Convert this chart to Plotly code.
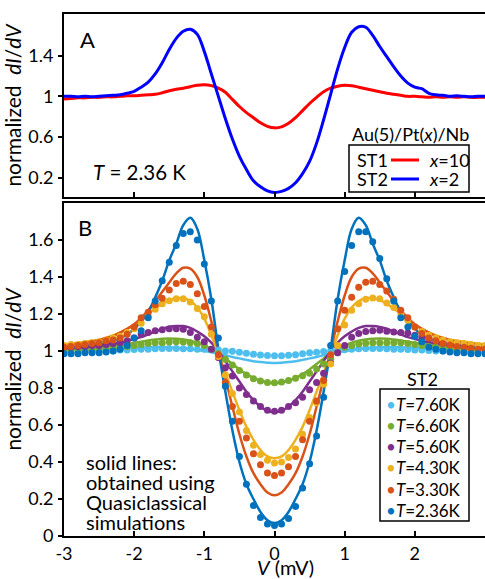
import plotly.graph_objects as go

# ---------------- data ----------------
V = [-3.0, -2.9, -2.8, -2.7, -2.6, -2.5, -2.4, -2.3, -2.2, -2.1, -2.0,
     -1.9, -1.8, -1.7, -1.6, -1.5, -1.4, -1.3, -1.2, -1.1, -1.0,
     -0.9, -0.8, -0.7, -0.6, -0.5, -0.4, -0.3, -0.2, -0.1, 0.0,
     0.1, 0.2, 0.3, 0.4, 0.5, 0.6, 0.7, 0.8, 0.9, 1.0,
     1.1, 1.2, 1.3, 1.4, 1.5, 1.6, 1.7, 1.8, 1.9, 2.0,
     2.1, 2.2, 2.3, 2.4, 2.5, 2.6, 2.7, 2.8, 2.9, 3.0]

# Panel A
st1_x10 = [0.975, 0.98, 0.985, 0.985, 0.99, 0.99, 0.995, 0.995, 1.0, 1.005, 1.005,
           1.01, 1.015, 1.02, 1.035, 1.055, 1.07, 1.08, 1.095, 1.11, 1.115,
           1.105, 1.08, 1.04, 0.97, 0.90, 0.84, 0.79, 0.74, 0.705, 0.69,
           0.70, 0.735, 0.79, 0.86, 0.93, 0.99, 1.045, 1.08, 1.10, 1.11,
           1.105, 1.09, 1.075, 1.06, 1.045, 1.03, 1.02, 1.01, 1.0, 1.0,
           0.995, 0.99, 0.995, 0.99, 0.995, 0.99, 0.995, 0.99, 0.99, 0.99]
st2_x2 = [1.00, 1.00, 0.995, 1.00, 0.995, 1.00, 1.005, 1.01, 1.015, 1.03, 1.05,
          1.09, 1.14, 1.22, 1.33, 1.46, 1.57, 1.64, 1.66, 1.61, 1.44,
          1.22, 1.00, 0.78, 0.58, 0.41, 0.28, 0.17, 0.11, 0.07, 0.055,
          0.065, 0.095, 0.15, 0.24, 0.36, 0.54, 0.77, 1.02, 1.27, 1.48,
          1.63, 1.685, 1.68, 1.60, 1.49, 1.39, 1.29, 1.20, 1.13, 1.09,
          1.075, 1.03, 1.015, 1.01, 1.00, 1.005, 1.00, 0.995, 1.00, 1.00]
series_A = ["ST1", "ST2"]
labels_A = ["<i>x</i>=10", "<i>x</i>=2"]

# Panel B - measured points
temps = ["7.60K", "6.60K", "5.60K", "4.30K", "3.30K", "2.36K"]
dots_760 = [0.995, 0.995, 0.995, 1.0, 1.0, 1.0, 1.0, 1.0, 1.005, 1.005, 1.008,
            1.01, 1.01, 1.012, 1.013, 1.013, 1.013, 1.012, 1.012, 1.01, 1.01,
            1.008, 1.005, 1.0, 0.998, 0.993, 0.988, 0.983, 0.978, 0.976, 0.975,
            0.975, 0.977, 0.98, 0.985, 0.99, 0.993, 0.997, 1.0, 1.004, 1.007,
            1.01, 1.012, 1.013, 1.013, 1.013, 1.012, 1.01, 1.01, 1.008, 1.005,
            1.005, 1.003, 1.0, 1.0, 1.0, 1.0, 0.998, 0.998, 0.995, 0.995]
dots_660 = [1.0, 1.005, 1.005, 1.005, 1.01, 1.01, 1.015, 1.015, 1.02, 1.025, 1.03,
            1.035, 1.04, 1.045, 1.045, 1.048, 1.05, 1.048, 1.045, 1.04, 1.03,
            1.01, 0.985, 0.955, 0.925, 0.895, 0.87, 0.85, 0.838, 0.83, 0.828,
            0.832, 0.84, 0.853, 0.866, 0.88, 0.903, 0.93, 0.96, 0.99, 1.02,
            1.03, 1.038, 1.042, 1.045, 1.045, 1.045, 1.045, 1.045, 1.04, 1.035,
            1.03, 1.025, 1.02, 1.015, 1.015, 1.01, 1.01, 1.005, 1.005, 1.0]
dots_560 = [1.02, 1.02, 1.025, 1.025, 1.03, 1.03, 1.035, 1.04, 1.045, 1.055, 1.07,
            1.09, 1.10, 1.11, 1.115, 1.12, 1.12, 1.117, 1.10, 1.075, 1.05,
            1.01, 0.965, 0.91, 0.865, 0.80, 0.765, 0.73, 0.70, 0.68, 0.675,
            0.68, 0.70, 0.72, 0.75, 0.79, 0.83, 0.88, 0.935, 0.99, 1.03,
            1.075, 1.094, 1.105, 1.11, 1.112, 1.107, 1.103, 1.10, 1.097, 1.085,
            1.075, 1.065, 1.055, 1.045, 1.04, 1.036, 1.032, 1.028, 1.025, 1.025]
dots_430 = [1.03, 1.035, 1.035, 1.04, 1.045, 1.05, 1.06, 1.07, 1.08, 1.10, 1.12,
            1.15, 1.19, 1.225, 1.255, 1.272, 1.283, 1.283, 1.265, 1.23, 1.185,
            1.09, 0.97, 0.87, 0.77, 0.67, 0.57, 0.49, 0.44, 0.41, 0.395,
            0.40, 0.425, 0.47, 0.55, 0.64, 0.72, 0.82, 0.93, 1.03, 1.14,
            1.22, 1.255, 1.28, 1.287, 1.283, 1.26, 1.235, 1.20, 1.165, 1.13,
            1.105, 1.085, 1.07, 1.06, 1.05, 1.045, 1.04, 1.035, 1.03, 1.03]
dots_330 = [1.02, 1.025, 1.03, 1.035, 1.04, 1.045, 1.055, 1.06, 1.07, 1.09, 1.13,
            1.18, 1.21, 1.25, 1.285, 1.33, 1.365, 1.377, 1.36, 1.31, 1.24,
            1.13, 0.98, 0.83, 0.70, 0.62, 0.53, 0.445, 0.385, 0.34, 0.327,
            0.34, 0.375, 0.43, 0.52, 0.62, 0.73, 0.84, 0.98, 1.12, 1.22,
            1.29, 1.345, 1.372, 1.377, 1.36, 1.325, 1.28, 1.22, 1.18, 1.13,
            1.095, 1.07, 1.055, 1.04, 1.033, 1.025, 1.02, 1.015, 1.01, 1.01]
dots_236 = [0.985, 0.985, 0.985, 0.99, 0.99, 0.99, 0.995, 1.0, 1.01, 1.03, 1.07,
            1.11, 1.18, 1.27, 1.38, 1.48, 1.57, 1.635, 1.645, 1.60, 1.47,
            1.27, 1.07, 0.81, 0.62, 0.43, 0.28, 0.165, 0.10, 0.065, 0.057,
            0.065, 0.095, 0.16, 0.26, 0.39, 0.54, 0.75, 1.03, 1.27, 1.43,
            1.57, 1.645, 1.645, 1.59, 1.50, 1.39, 1.27, 1.18, 1.13, 1.08,
            1.05, 1.02, 1.01, 1.0, 0.995, 0.99, 0.99, 0.985, 0.985, 0.985]

# Panel B - quasiclassical simulations
sim_760 = [1.005, 1.005, 1.006, 1.007, 1.008, 1.009, 1.01, 1.012, 1.014, 1.016, 1.018,
           1.019, 1.02, 1.021, 1.021, 1.02, 1.018, 1.015, 1.011, 1.006, 1.0,
           0.993, 0.985, 0.977, 0.968, 0.96, 0.952, 0.945, 0.94, 0.937, 0.935,
           0.937, 0.94, 0.945, 0.952, 0.96, 0.968, 0.977, 0.985, 0.993, 1.0,
           1.006, 1.011, 1.015, 1.018, 1.02, 1.021, 1.021, 1.02, 1.019, 1.018,
           1.016, 1.014, 1.012, 1.01, 1.009, 1.008, 1.007, 1.006, 1.005, 1.005]
sim_660 = [1.01, 1.011, 1.013, 1.015, 1.017, 1.02, 1.024, 1.028, 1.033, 1.038, 1.044,
           1.05, 1.057, 1.062, 1.066, 1.067, 1.066, 1.062, 1.055, 1.045, 1.03,
           1.01, 0.99, 0.96, 0.93, 0.90, 0.875, 0.855, 0.84, 0.83, 0.827,
           0.83, 0.84, 0.855, 0.875, 0.90, 0.93, 0.96, 0.99, 1.01, 1.03,
           1.045, 1.055, 1.062, 1.066, 1.067, 1.066, 1.062, 1.057, 1.05, 1.044,
           1.038, 1.033, 1.028, 1.024, 1.02, 1.017, 1.015, 1.013, 1.011, 1.01]
sim_560 = [1.015, 1.015, 1.02, 1.02, 1.025, 1.03, 1.035, 1.04, 1.045, 1.055, 1.065,
           1.075, 1.09, 1.105, 1.12, 1.13, 1.135, 1.135, 1.125, 1.105, 1.08,
           1.045, 1.0, 0.945, 0.89, 0.835, 0.78, 0.735, 0.70, 0.675, 0.67,
           0.675, 0.70, 0.735, 0.78, 0.835, 0.89, 0.945, 1.0, 1.045, 1.08,
           1.105, 1.125, 1.135, 1.135, 1.13, 1.12, 1.105, 1.09, 1.075, 1.065,
           1.055, 1.045, 1.04, 1.035, 1.03, 1.025, 1.02, 1.02, 1.015, 1.015]
sim_430 = [1.035, 1.04, 1.045, 1.05, 1.055, 1.06, 1.07, 1.085, 1.10, 1.12, 1.14,
           1.17, 1.20, 1.23, 1.255, 1.275, 1.285, 1.285, 1.27, 1.235, 1.175,
           1.085, 0.985, 0.88, 0.78, 0.68, 0.59, 0.52, 0.465, 0.43, 0.42,
           0.43, 0.465, 0.52, 0.59, 0.68, 0.78, 0.88, 0.985, 1.085, 1.175,
           1.235, 1.27, 1.285, 1.285, 1.275, 1.255, 1.23, 1.20, 1.17, 1.14,
           1.12, 1.10, 1.085, 1.07, 1.06, 1.055, 1.05, 1.045, 1.04, 1.035]
sim_330 = [1.03, 1.035, 1.04, 1.045, 1.05, 1.06, 1.07, 1.08, 1.10, 1.12, 1.145,
           1.18, 1.22, 1.27, 1.32, 1.37, 1.42, 1.45, 1.445, 1.40, 1.30,
           1.16, 1.0, 0.85, 0.70, 0.55, 0.43, 0.34, 0.28, 0.235, 0.22,
           0.235, 0.28, 0.34, 0.43, 0.55, 0.70, 0.85, 1.0, 1.16, 1.30,
           1.40, 1.445, 1.45, 1.42, 1.37, 1.32, 1.27, 1.22, 1.18, 1.145,
           1.12, 1.10, 1.08, 1.07, 1.06, 1.05, 1.045, 1.04, 1.035, 1.03]
sim_236 = [1.02, 1.02, 1.025, 1.03, 1.035, 1.04, 1.045, 1.055, 1.07, 1.09, 1.12,
           1.16, 1.21, 1.29, 1.38, 1.49, 1.58, 1.68, 1.72, 1.66, 1.49,
           1.28, 1.01, 0.78, 0.57, 0.40, 0.28, 0.20, 0.13, 0.085, 0.07,
           0.085, 0.13, 0.20, 0.28, 0.40, 0.57, 0.78, 1.01, 1.28, 1.49,
           1.66, 1.72, 1.68, 1.58, 1.49, 1.38, 1.29, 1.21, 1.16, 1.12,
           1.09, 1.07, 1.055, 1.045, 1.04, 1.035, 1.03, 1.025, 1.02, 1.02]

dots_all = [dots_760, dots_660, dots_560, dots_430, dots_330, dots_236]
sims_all = [sim_760, sim_660, sim_560, sim_430, sim_330, sim_236]

x_ticks = [-3, -2, -1, 0, 1, 2, 3]
x_ticktext = ["-3", "-2", "-1", "0", "1", "2", "3"]
yA_ticks = [0.2, 0.6, 1.0, 1.4]
yA_ticktext = ["0.2", "0.6", "1", "1.4"]
yB_ticks = [0, 0.2, 0.4, 0.6, 0.8, 1.0, 1.2, 1.4, 1.6]
yB_ticktext = ["0", "0.2", "0.4", "0.6", "0.8", "1", "1.2", "1.4", "1.6"]
note_lines = ["solid lines:", "obtained using", "Quasiclassical", "simulations"]

# ---------------- style ----------------
FONT = "Lato"
W, H = 485, 579
ML, MR, MT, MB = 64, 0, 14, 43
PW, PH = W - ML - MR, H - MT - MB
def fx(p): return (p - ML) / PW
def fy(p): return (H - MB - p) / PH

colors_A = ["#FF0000", "#0000FF"]
colors_B = ["#4DBEEE", "#77AC30", "#7E2F8E", "#EDB120", "#D95319", "#0072BD"]

fig = go.Figure()
for ys, c, nm in zip([st1_x10, st2_x2], colors_A, series_A):
    fig.add_trace(go.Scatter(x=V, y=ys, mode="lines", line=dict(color=c, width=3, shape="spline"),
                             name=nm, showlegend=False, xaxis="x", yaxis="y"))

for sim, c in zip(sims_all, colors_B):
    fig.add_trace(go.Scatter(x=V, y=sim, mode="lines", line=dict(color=c, width=2.5, shape="spline"),
                             showlegend=False, xaxis="x2", yaxis="y2"))
for d, c, t in zip(dots_all, colors_B, temps):
    fig.add_trace(go.Scatter(x=V, y=d, mode="markers", marker=dict(color=c, size=7),
                             name=t, showlegend=False, xaxis="x2", yaxis="y2"))

axis_common = dict(showline=True, linecolor="black", linewidth=2, mirror=True, showgrid=False,
                   zeroline=False, tickcolor="black", tickwidth=1.5,
                   tickfont=dict(family=FONT, size=18, color="black"), automargin=False)
ytitle = dict(text="normalized&nbsp; <i>dI</i>/<i>dV</i>", font=dict(family=FONT, size=21, color="black"),
              standoff=7)

fig.update_layout(
    template="none",
    width=W, height=H,
    margin=dict(l=ML, r=MR, t=MT, b=MB),
    paper_bgcolor="white", plot_bgcolor="white",
    font=dict(family=FONT, color="black"),
    showlegend=False,
    xaxis=dict(axis_common, domain=[0, 1], anchor="y", range=[-3, 3], tickvals=x_ticks,
               showticklabels=False, ticks="inside", ticklen=5),
    yaxis=dict(axis_common, domain=[fy(197), 1], anchor="x", range=[0.01, 1.81],
               tickvals=yA_ticks, ticktext=yA_ticktext, ticks="outside", ticklen=4,
               ticklabelstandoff=1, title=ytitle),
    xaxis2=dict(axis_common, domain=[0, 1], anchor="y2", range=[-3, 3], tickvals=x_ticks,
                ticktext=x_ticktext, ticks="inside", ticklen=5, ticklabelstandoff=0),
    yaxis2=dict(axis_common, domain=[0, fy(203)], anchor="x2", range=[0, 1.8],
                tickvals=yB_ticks, ticktext=yB_ticktext, ticks="outside", ticklen=4,
                ticklabelstandoff=1, title=ytitle),
)

ann = []
def add_text(text, x, y, size, xanchor="left", yanchor="middle"):
    ann.append(dict(text=text, x=fx(x), y=fy(y), xref="paper", yref="paper", showarrow=False,
                    xanchor=xanchor, yanchor=yanchor, font=dict(family=FONT, size=size, color="black")))

add_text("A", 87, 40, 22, "center")
add_text("B", 85, 227, 22, "center")
add_text("<i>T</i> = 2.36 K", 91, 172, 20.5)
add_text("Au(5)/Pt(<i>x</i>)/Nb", 410, 134, 18, "center")
legA_y = [160, 179]
for nm, lab, yy in zip(series_A, labels_A, legA_y):
    add_text(nm, 355, yy, 18)
    add_text(lab, 427, yy, 18)
add_text("ST2", 422, 379, 18, "center")
for i, line in enumerate(note_lines):
    add_text(line, 84, 462 + 20 * i, 20)
add_text("<i>V</i> (mV)", 285, 567, 20, "center")

rows_y = [404, 425, 446, 467, 489, 510]
for t, c, yy in zip(temps, colors_B, rows_y):
    add_text(f"<span style='color:{c}'>•</span><i>T</i>={t}", 384, yy, 17)

fig.update_layout(annotations=ann)

shapes = [
    dict(type="rect", xref="paper", yref="paper", x0=fx(349), x1=fx(469), y0=fy(192), y1=fy(145),
         line=dict(color="black", width=1.5)),
    dict(type="rect", xref="paper", yref="paper", x0=fx(380), x1=fx(469), y0=fy(521), y1=fy(389),
         line=dict(color="black", width=1.5)),
]
for c, yy in zip(colors_A, legA_y):
    shapes.append(dict(type="line", xref="paper", yref="paper", x0=fx(391), x1=fx(419),
                       y0=fy(yy), y1=fy(yy), line=dict(color=c, width=3)))
fig.update_layout(shapes=shapes)

fig.write_html("out.html")
